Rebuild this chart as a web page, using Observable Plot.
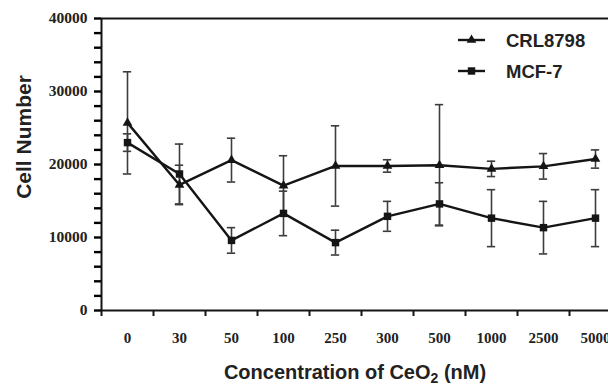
<!DOCTYPE html>
<html>
<head>
<meta charset="utf-8">
<script src="https://cdn.jsdelivr.net/npm/d3@7"></script>
<script src="https://cdn.jsdelivr.net/npm/@observablehq/plot@0.6"></script>
<style>
  html, body { margin: 0; padding: 0; background: #fff; }
  #chart svg { display: block; }
</style>
</head>
<body>
<div id="chart"></div>
<script>
// ---- data ----
const concentrations = ["0", "30", "50", "100", "250", "300", "500", "1000", "2500", "5000"];
const seriesNames = ["CRL8798", "MCF-7"];
const crlValues = [25700, 17200, 20600, 17100, 19800, 19800, 19900, 19400, 19750, 20750];
const crlErrors = [7000, 2700, 3000, 4100, 5500, 850, 8300, 1050, 1750, 1250];
const mcfValues = [23000, 18700, 9600, 13300, 9300, 12900, 14600, 12650, 11350, 12650];
const mcfErrors = [1200, 4100, 1750, 3050, 1700, 2050, 2900, 3900, 3600, 3900];
const yLabels = [0, 10000, 20000, 30000, 40000];
const yTickStep = 2000;
const yMax = 40000;

// ---- table built from the arrays ----
const rows = concentrations.flatMap((c, i) => [
  {series: seriesNames[0], i, c, v: crlValues[i], e: crlErrors[i]},
  {series: seriesNames[1], i, c, v: mcfValues[i], e: mcfErrors[i]}
]);
const crlRows = rows.filter(d => d.series === seriesNames[0]);
const mcfRows = rows.filter(d => d.series === seriesNames[1]);

const cx = d => d.i + 0.5;
const capHalf = 0.08;
const ink = "#151515";
const errInk = "#3c3c3c";
const serif = "'Liberation Serif', 'Times New Roman', serif";
const sans = "'Liberation Sans', Arial, sans-serif";

const yTicks = d3.range(0, yMax + 1, yTickStep);
const xBoundaries = d3.range(0, concentrations.length + 1);
const xCenters = concentrations.map((c, i) => i + 0.5);

const chart = Plot.plot({
  width: 608,
  height: 385,
  marginLeft: 101,
  marginTop: 18,
  marginBottom: 75,
  marginRight: 0,
  style: {background: "#fff", color: ink, fontFamily: sans},
  x: {domain: [0, concentrations.length], range: [101, 621], axis: null},
  y: {domain: [0, yMax], range: [310, 18], axis: null},
  marks: [
    // error bars
    Plot.ruleX(rows, {x: cx, y1: d => d.v - d.e, y2: d => d.v + d.e, stroke: errInk, strokeWidth: 1.6}),
    Plot.ruleY(rows, {y: d => d.v + d.e, x1: d => cx(d) - capHalf, x2: d => cx(d) + capHalf, stroke: errInk, strokeWidth: 1.6}),
    Plot.ruleY(rows, {y: d => d.v - d.e, x1: d => cx(d) - capHalf, x2: d => cx(d) + capHalf, stroke: errInk, strokeWidth: 1.6}),
    // lines
    Plot.line(rows, {x: cx, y: "v", z: "series", stroke: ink, strokeWidth: 2.4}),
    // markers
    Plot.dot(crlRows, {x: cx, y: "v", symbol: "triangle", fill: ink, stroke: "none", r: 3.6}),
    Plot.dot(mcfRows, {x: cx, y: "v", symbol: "square", fill: ink, stroke: "none", r: 4.2}),
    // frame lines: y axis, x axis, top line
    Plot.ruleX([0], {y1: 0, y2: yMax, stroke: ink, strokeWidth: 2}),
    Plot.ruleY([0], {x1: 0, x2: concentrations.length, stroke: ink, strokeWidth: 2}),
    Plot.ruleY([yMax], {x1: 0, x2: concentrations.length, stroke: ink, strokeWidth: 2}),
    // y axis ticks every 2000 (outward), labels every 10000
    Plot.axisY(yTicks, {
      anchor: "left", tickSize: 7, tickPadding: 7, strokeWidth: 2.4, stroke: "#000",
      tickFormat: d => (yLabels.includes(d) ? String(d) : ""),
      fontFamily: serif, fontWeight: "bold", fontSize: 15.5, fill: "#222", label: null
    }),
    // x axis: ticks at band boundaries
    Plot.axisX(xBoundaries, {tickSize: 6, strokeWidth: 2, stroke: ink, tickFormat: () => "", label: null}),
    // x axis: labels at band centres
    Plot.axisX(xCenters, {
      tickSize: 0, tickPadding: 22,
      tickFormat: d => concentrations[Math.round(d - 0.5)],
      fontFamily: serif, fontWeight: "bold", fontSize: 15, fill: "#222", label: null
    })
  ]
});

document.getElementById("chart").appendChild(chart);

const svg = d3.select(chart);

// y axis title
svg.append("text")
  .attr("transform", "translate(31,137) rotate(-90)")
  .attr("text-anchor", "middle")
  .attr("font-family", sans).attr("font-weight", "bold").attr("font-size", 21)
  .attr("fill", "#222")
  .text("Cell Number");

// x axis title with subscript
const title = svg.append("text")
  .attr("x", 355).attr("y", 379)
  .attr("text-anchor", "middle")
  .attr("font-family", sans).attr("font-weight", "bold").attr("font-size", 20)
  .attr("fill", "#222");
title.append("tspan").text("Concentration of CeO");
title.append("tspan").attr("font-size", 14).attr("dy", 4).text("2");
title.append("tspan").attr("dy", -4).text(" (nM)");

// legend
const legend = svg.append("g");
const legendItems = [
  {name: seriesNames[0], symbol: d3.symbolTriangle, size: Math.PI * 3.6 * 3.6, y: 40},
  {name: seriesNames[1], symbol: d3.symbolSquare, size: Math.PI * 4.2 * 4.2, y: 71}
];
legendItems.forEach(it => {
  legend.append("line").attr("x1", 458).attr("x2", 485).attr("y1", it.y).attr("y2", it.y)
    .attr("stroke", ink).attr("stroke-width", 2.4);
  legend.append("path").attr("d", d3.symbol(it.symbol, it.size)())
    .attr("transform", `translate(471.5,${it.y})`).attr("fill", ink);
  legend.append("text").attr("x", 506).attr("y", it.y + 6.5)
    .attr("text-anchor", "start")
    .attr("font-family", sans).attr("font-weight", "bold").attr("font-size", 18.5)
    .attr("fill", "#222").text(it.name);
});
</script>
</body>
</html>
